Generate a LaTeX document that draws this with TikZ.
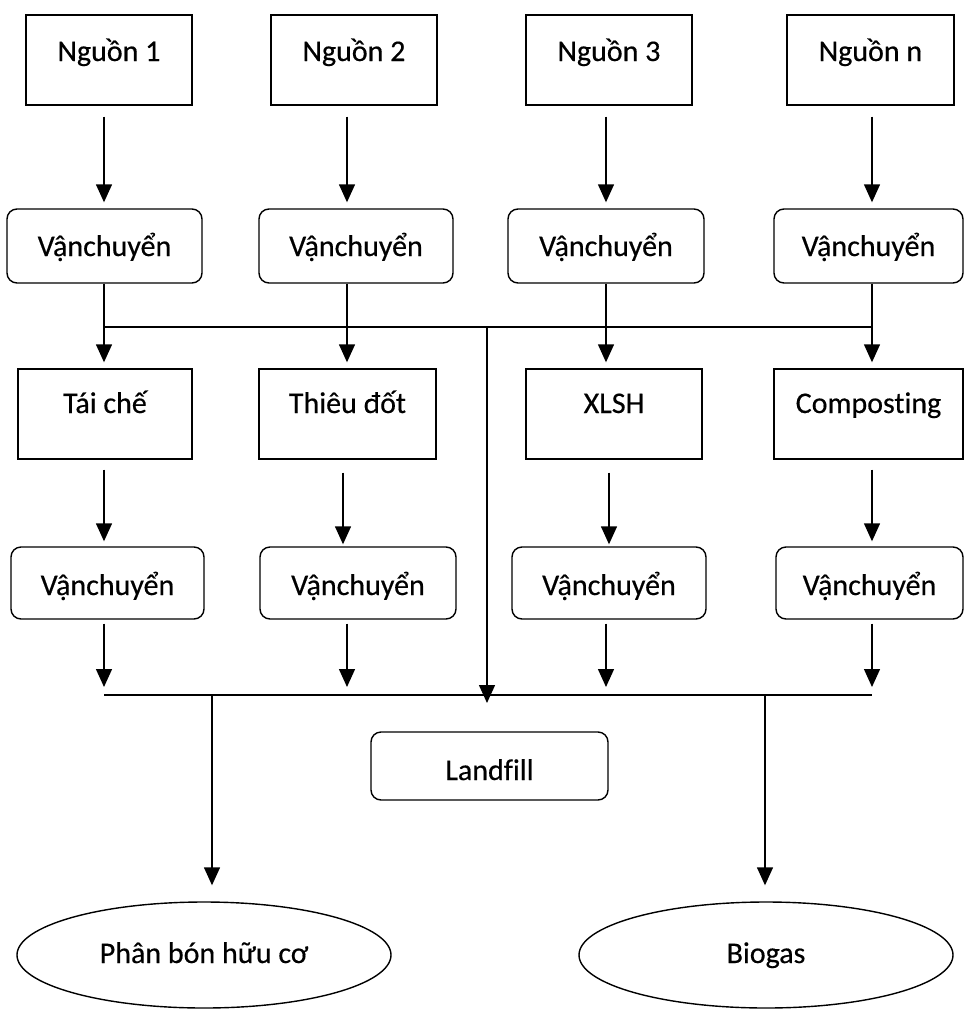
\documentclass[tikz,border=0pt]{standalone}
\usepackage{fontspec}
\setmainfont[Ligatures=NoCommon,FakeBold=0.4]{Carlito}
\usetikzlibrary{arrows.meta,shapes.geometric}
\begin{document}
\begin{tikzpicture}[x=1pt,y=-1pt,line width=1.4pt,
  font=\fontsize{30pt}{36pt}\selectfont,
  srcbox/.style={draw,rectangle,inner sep=0pt,text height=46pt,text depth=44pt,minimum width=#1},
  procbox/.style={draw,rectangle,inner sep=0pt,text height=44pt,text depth=46pt,minimum width=#1},
  tranA/.style={draw,rectangle,rounded corners=10pt,inner sep=0pt,text height=47pt,text depth=27pt,minimum width=#1},
  tranB/.style={draw,rectangle,rounded corners=10pt,inner sep=0pt,text height=48pt,text depth=24pt,minimum width=#1},
  endell/.style={draw,ellipse,inner sep=0pt,minimum width=374pt,minimum height=106pt,text height=20pt,text depth=4pt},
  arr/.style={-{Triangle[length=18pt,width=16pt]}}
]
\useasboundingbox (0,0) rectangle (965,1010);
% column coordinates
\coordinate (k1) at (104,0);
\coordinate (k2) at (347,0);
\coordinate (k3) at (606,0);
\coordinate (k4) at (872,0);
\coordinate (k2b) at (343,0);
\coordinate (k3b) at (609,0);
\coordinate (kp) at (212,0);
\coordinate (kb) at (765,0);
\coordinate (b1) at (0,327);
\coordinate (b2) at (0,695);
\coordinate (lt) at (487,703);

% row 1
\node[srcbox=166pt] (n1) at (109,60) {Nguồn 1};
\node[srcbox=166pt] (n2) at (354,60) {Nguồn 2};
\node[srcbox=166pt] (n3) at (609,60) {Nguồn 3};
\node[srcbox=167pt] (n4) at (870.5,60) {Nguồn n};
% row 2
\node[tranA=195pt] (v1) at (104.5,246) {Vậnchuyển};
\node[tranA=194pt] (v2) at (356,246) {Vậnchuyển};
\node[tranA=196pt] (v3) at (606,246) {Vậnchuyển};
\node[tranA=189pt] (v4) at (868.5,246) {Vậnchuyển};
% row 3
\node[procbox=174pt] (t1) at (105,414) {Tái chế};
\node[procbox=177pt] (t2) at (347.5,414) {Thiêu đốt};
\node[procbox=176pt] (t3) at (614,414) {XLSH};
\node[procbox=189pt] (t4) at (868.5,414) {Composting};
% row 4
\node[tranB=193pt] (w1) at (107.5,583) {Vậnchuyển};
\node[tranB=196pt] (w2) at (358,583) {Vậnchuyển};
\node[tranB=194pt] (w3) at (609,583) {Vậnchuyển};
\node[tranB=187pt] (w4) at (869.5,583) {Vậnchuyển};
% landfill
\node[draw,rectangle,rounded corners=10pt,inner sep=0pt,text height=48pt,text depth=20pt,minimum width=237pt] (lf) at (489.5,766) {Landfill};
% end products
\node[endell] (e1) at (204,955) {Phân bón hữu cơ};
\node[endell] (e2) at (766,955) {Biogas};

% row 1 -> row 2
\foreach \i in {1,2,3,4}{
  \draw[arr,shorten <=11pt,shorten >=6pt] (n\i.south -| k\i) -- (v\i.north -| k\i);
}
% row 2 -> row 3 through bus 1
\foreach \i in {1,2,3,4}{
  \draw[arr,shorten >=6pt] (v\i.south -| k\i) -- (t\i.north -| k\i);
}
\draw (b1 -| k1) -- (b1 -| k4);
\draw[arr] (b1 -| lt) -- (lt);
% row 3 -> row 4
\draw[arr,shorten <=10pt,shorten >=5pt] (t1.south -| k1) -- (w1.north -| k1);
\draw[arr,shorten <=13pt,shorten >=2pt] (t2.south -| k2b) -- (w2.north -| k2b);
\draw[arr,shorten <=13pt,shorten >=2pt] (t3.south -| k3b) -- (w3.north -| k3b);
\draw[arr,shorten <=10pt,shorten >=5pt] (t4.south -| k4) -- (w4.north -| k4);
% row 4 -> bus 2
\foreach \i in {1,2,3,4}{
  \draw[arr,shorten <=4pt,shorten >=8pt] (w\i.south -| k\i) -- (b2 -| k\i);
}
\draw (b2 -| k1) -- (b2 -| k4);
% bus 2 -> products
\draw[arr,shorten >=16pt] (b2 -| kp) -- (e1.north -| kp);
\draw[arr,shorten >=16pt] (b2 -| kb) -- (e2.north -| kb);
\end{tikzpicture}
\end{document}
